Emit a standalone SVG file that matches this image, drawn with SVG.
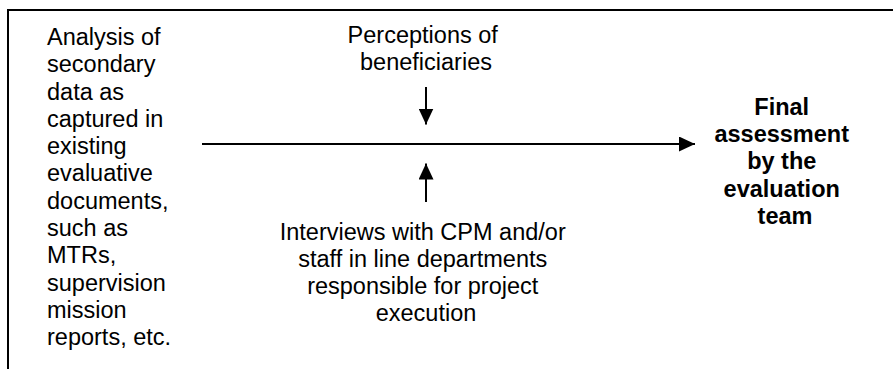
<svg xmlns="http://www.w3.org/2000/svg" width="893" height="369" viewBox="0 0 893 369">
  <defs>
    <style>
      .t { font-family: "Liberation Sans", Arial, sans-serif; font-size: 23.5px; fill: #000; }
      .b { font-weight: bold; }
      .c { text-anchor: middle; }
      .ln { stroke: #000; stroke-width: 2; fill: none; }
      .frame { stroke: #000; stroke-width: 2; fill: none; }
    </style>
    <marker id="head" viewBox="0 0 16 15" refX="16" refY="7.5" markerWidth="16" markerHeight="15" markerUnits="userSpaceOnUse" orient="auto">
      <path d="M0,0 L16,7.5 L0,15 Z" fill="#000"/>
    </marker>
  </defs>
  <rect width="893" height="369" fill="#fff"/>

  <!-- open frame: top rule and left rule -->
  <path class="frame" d="M8,369 V10 H893"/>

  <g id="secondary-data">
    <text class="t" x="47">
      <tspan x="47" y="45">Analysis of</tspan>
      <tspan x="47" y="72.3">secondary</tspan>
      <tspan x="47" y="99.5">data as</tspan>
      <tspan x="47" y="126.8">captured in</tspan>
      <tspan x="47" y="154.1">existing</tspan>
      <tspan x="47" y="181.4">evaluative</tspan>
      <tspan x="47" y="208.6">documents,</tspan>
      <tspan x="47" y="235.9">such as</tspan>
      <tspan x="47" y="263.2">MTRs,</tspan>
      <tspan x="47" y="290.5">supervision</tspan>
      <tspan x="47" y="317.7">mission</tspan>
      <tspan x="47" y="345">reports, etc.</tspan>
    </text>
  </g>

  <g id="perceptions">
    <text class="t c">
      <tspan x="426" y="43.3">Perceptions of</tspan>
      <tspan x="426" y="69.8">beneficiaries</tspan>
    </text>
  </g>

  <g id="interviews">
    <text class="t c">
      <tspan x="426" y="240">Interviews with CPM and/or</tspan>
      <tspan x="426" y="267">staff in line departments</tspan>
      <tspan x="426" y="294">responsible for project</tspan>
      <tspan x="426" y="321">execution</tspan>
    </text>
  </g>

  <g id="final-assessment">
    <text class="t b c">
      <tspan x="785" y="115">Final</tspan>
      <tspan x="785" y="142">assessment</tspan>
      <tspan x="785" y="169">by the</tspan>
      <tspan x="785" y="196.5">evaluation</tspan>
      <tspan x="785" y="223.5">team</tspan>
    </text>
  </g>

  <g id="connectors">
    <line class="ln" x1="202" y1="144" x2="695" y2="144" marker-end="url(#head)"/>
    <line class="ln" x1="426" y1="87" x2="426" y2="124.5" marker-end="url(#head)"/>
    <line class="ln" x1="426" y1="202" x2="426" y2="163.5" marker-end="url(#head)"/>
  </g>
</svg>
